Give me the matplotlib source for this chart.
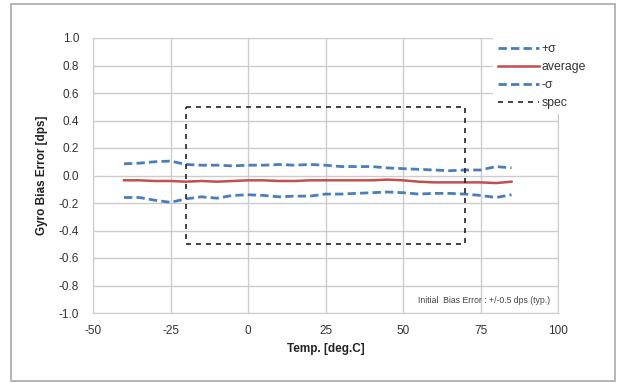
import matplotlib
matplotlib.use("Agg")
import matplotlib.pyplot as plt
from matplotlib.patches import Rectangle
from matplotlib.ticker import FormatStrFormatter

plt.rcParams['font.family'] = ['Liberation Sans', 'DejaVu Sans']
plt.rcParams['axes.unicode_minus'] = False

# temperature points [deg.C]
temps = [-40, -35, -30, -25, -20, -15, -10, -5, 0, 5, 10, 15, 20,
         25, 30, 35, 40, 45, 50, 55, 60, 65, 70, 75, 80, 85]

plus_sigma = [0.085, 0.09, 0.10, 0.105, 0.08, 0.075, 0.075, 0.07, 0.075, 0.075, 0.08, 0.075, 0.08,
              0.075, 0.065, 0.065, 0.065, 0.055, 0.05, 0.045, 0.04, 0.035, 0.04, 0.04, 0.065, 0.055]
average = [-0.035, -0.035, -0.04, -0.04, -0.045, -0.04, -0.045, -0.04, -0.035, -0.035, -0.04, -0.04, -0.035,
           -0.035, -0.035, -0.035, -0.035, -0.03, -0.035, -0.045, -0.05, -0.05, -0.05, -0.05, -0.055, -0.045]
minus_sigma = [-0.16, -0.16, -0.18, -0.195, -0.17, -0.155, -0.165, -0.145, -0.14, -0.145, -0.155, -0.15, -0.15,
               -0.135, -0.135, -0.13, -0.125, -0.12, -0.125, -0.135, -0.13, -0.13, -0.135, -0.145, -0.16, -0.14]

# spec window outline
spec_x = [-20, 70, 70, -20, -20]
spec_y = [0.5, 0.5, -0.5, -0.5, 0.5]

fig = plt.figure(figsize=(6.19, 3.83), dpi=100)
ax = fig.add_axes([93 / 619, 1 - 313 / 383, (558 - 93) / 619, (313 - 38) / 383])

# outer chart border
fig.patches.append(Rectangle((11 / 619, 2 / 383), 604 / 619, 377 / 383, transform=fig.transFigure,
                             fill=False, edgecolor='#a8a8a8', linewidth=1.2))

blue = '#4a7ebb'
red = '#c0504d'
ax.plot(temps, plus_sigma, color=blue, linestyle=(0, (3, 1.5)), linewidth=2, label='+σ')
ax.plot(temps, average, color=red, linewidth=1.8, label='average')
ax.plot(temps, minus_sigma, color=blue, linestyle=(0, (3, 1.5)), linewidth=2, label='-σ')
ax.plot(spec_x, spec_y, color='#222222', linestyle=(0, (3, 3)), linewidth=1.2, label='spec')

ax.set_xlim(-50, 100)
ax.set_ylim(-1.0, 1.0)
ax.set_xticks([-50, -25, 0, 25, 50, 75, 100])
ax.set_yticks([-1.0, -0.8, -0.6, -0.4, -0.2, 0.0, 0.2, 0.4, 0.6, 0.8, 1.0])
ax.yaxis.set_major_formatter(FormatStrFormatter('%.1f'))
ax.tick_params(axis='y', length=0, labelsize=8.5, colors='#333333', pad=10)
ax.tick_params(axis='x', length=0, labelsize=8.5, colors='#333333', pad=9)
ax.grid(True, color='#cccccc', linewidth=1)
ax.set_axisbelow(True)
for s in ax.spines.values():
    s.set_color('#cccccc')

ax.set_xlabel('Temp. [deg.C]', fontsize=8.5, fontweight='bold', color='#222222', labelpad=4)
ax.set_ylabel('Gyro Bias Error [dps]', fontsize=8.5, fontweight='bold', color='#222222', labelpad=8)

ax.text(76, -0.91, 'Initial  Bias Error : +/-0.5 dps (typ.)', fontsize=6.2, color='#444444',
        ha='center', va='center')

leg = ax.legend(loc='upper left', bbox_to_anchor=(493 / 619, 1 - 38 / 383), bbox_transform=fig.transFigure,
                fontsize=8.8, handlelength=3.4, handletextpad=0.15, labelspacing=0.5,
                frameon=True, fancybox=False, borderpad=0.4, borderaxespad=0)
leg.get_frame().set_facecolor('white')
leg.get_frame().set_edgecolor('none')
leg.get_frame().set_alpha(1)
for t in leg.get_texts():
    t.set_color('#333333')

fig.savefig('out.png', dpi=100)
